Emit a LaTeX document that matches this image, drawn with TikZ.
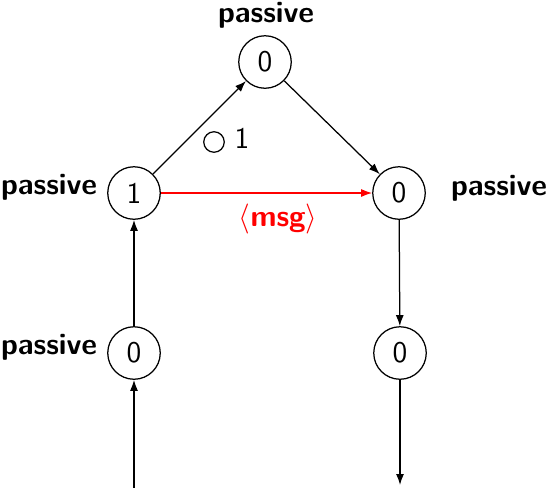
\documentclass[tikz,border=0pt]{standalone}
\usetikzlibrary{arrows.meta}
\begin{document}
\begin{tikzpicture}[x=0.4pt,y=-0.4pt,line width=0.5pt,
  proc/.style={circle,draw,inner sep=0pt,minimum size=21pt,font=\fontsize{12}{14}\selectfont\sffamily},
  lbl/.style={font=\fontsize{12}{14}\selectfont\sffamily\bfseries},
  arr/.style={-{Latex[length=4.4pt,width=3.2pt]}}]
\useasboundingbox (0,0) rectangle (546,487);
\node[proc] (T) at (265,62) {0};
\node[proc] (L1) at (134,193) {1};
\node[proc] (R1) at (399,193) {0};
\node[proc] (L0) at (134,353) {0};
\node[proc] (R0) at (400,353) {0};
\node[lbl] (pT) at (266,15) {passive};
\node[lbl] (pL1) at (49,187) {passive};
\node[lbl] (pR1) at (499,188) {passive};
\node[lbl] (pL0) at (49,347) {passive};
\node[circle,draw,inner sep=0pt,minimum size=8.2pt] (m) at (214,142) {};
\node[font=\fontsize{12}{14}\selectfont\sffamily] (m1) at (242,138) {1};
\coordinate (start) at (134,488);
\coordinate (end) at (400,485);
\draw[arr] (start) -- (L0);
\draw[arr] (L0) -- (L1);
\draw[arr] (L1) -- (T);
\draw[arr] (T) -- (R1);
\draw[arr] (R1) -- (R0);
\draw[arr] (R0) -- (end);
\draw[arr,red] (L1) -- node[pos=0.555,below=1pt,font=\fontsize{12}{14}\selectfont\sffamily\bfseries,text=red] (msg) {$\langle$msg$\rangle$} (R1);
\end{tikzpicture}
\end{document}
